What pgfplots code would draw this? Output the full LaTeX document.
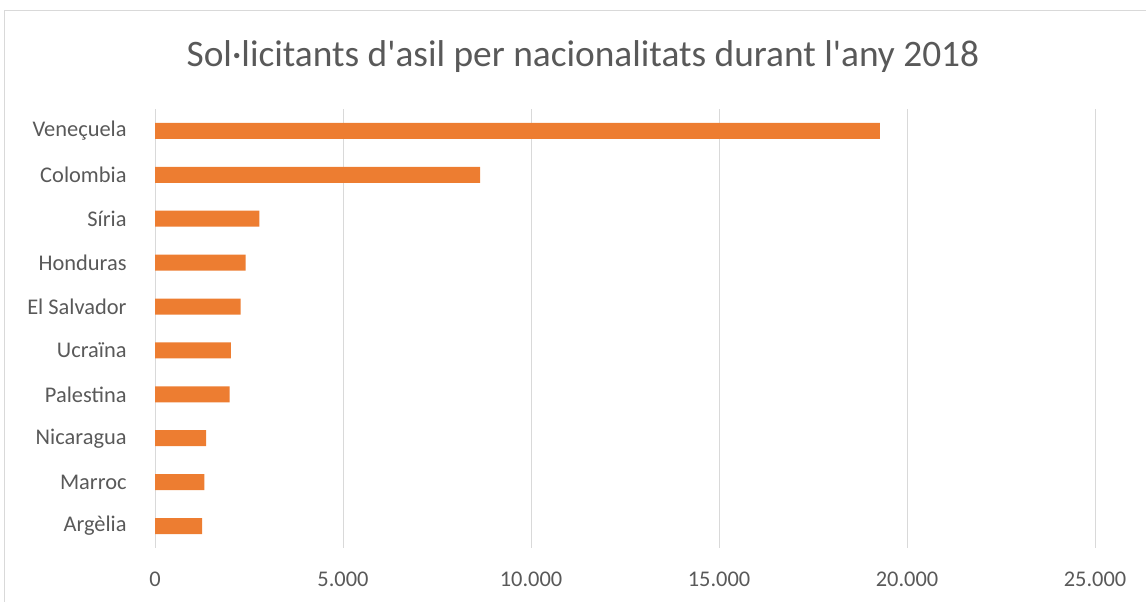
\documentclass[border=0pt]{standalone}
\usepackage{pgfplots}
\pgfplotsset{compat=1.18}
\usepackage{fontspec}
\setmainfont{Carlito}[Ligatures=TeXOff]
\definecolor{barorange}{HTML}{ED7D31}
\definecolor{txtgray}{HTML}{595959}
\definecolor{gridgray}{HTML}{D9D9D9}
\begin{document}
\begin{tikzpicture}[x=1bp,y=1bp]
\path[use as bounding box] (0,0) rectangle (1146,602);
\draw[gridgray,line width=1bp] (4,0) -- (4,591) -- (1146,591);
\node[txtgray,font=\fontsize{37.5}{42}\selectfont,anchor=base,inner sep=0pt] at (583,535) {Sol·licitants d'asil per nacionalitats durant l'any 2018};
\begin{axis}[
  at={(155bp,54bp)}, anchor=south west,
  scale only axis, width=940bp, height=439bp,
  xbar, bar width=16bp,
  xmin=0, xmax=25000,
  ymin=-0.5, ymax=9.5,
  scaled x ticks=false,
  xtick={0,5000,10000,15000,20000,25000},
  xticklabels={0,5.000,10.000,15.000,20.000,25.000},
  ytick={0,...,9},
  yticklabels={Argèlia,Marroc,Nicaragua,Palestina,Ucraïna,El Salvador,Honduras,Síria,Colombia,Veneçuela},
  axis line style={draw=none},
  major tick style={draw=none},
  xmajorgrids, grid style={gridgray,line width=1bp},
  ticklabel style={txtgray,font=\fontsize{22.5}{26}\selectfont},
  /pgf/number format/assume math mode=true,
  xticklabel style={anchor=base,yshift=-39bp},
  yticklabel style={anchor=east,inner sep=0pt,xshift=-24bp},
]
\addplot[fill=barorange,draw=none] coordinates {
(1255,0) (1310,1) (1360,2) (1985,3) (2015,4) (2275,5) (2410,6) (2775,7) (8650,8) (19280,9)};
\end{axis}
\end{tikzpicture}
\end{document}
